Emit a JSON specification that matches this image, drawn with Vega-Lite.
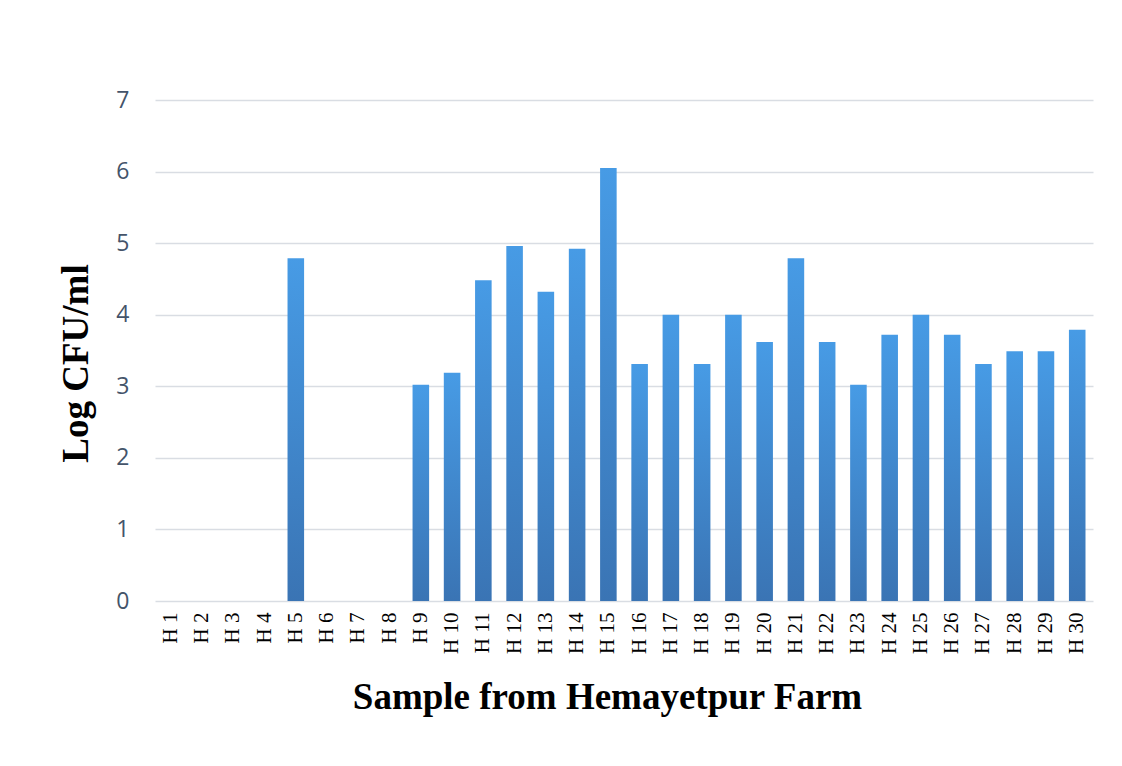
{
  "$schema": "https://vega.github.io/schema/vega-lite/v6.json",
  "width": 938,
  "height": 501,
  "autosize": "none",
  "padding": {"left": 155, "top": 100, "right": 29, "bottom": 165},
  "background": "white",
  "data": {
    "values": [
      {"sample": "H 1", "logcfu": 0},
      {"sample": "H 2", "logcfu": 0},
      {"sample": "H 3", "logcfu": 0},
      {"sample": "H 4", "logcfu": 0},
      {"sample": "H 5", "logcfu": 4.79},
      {"sample": "H 6", "logcfu": 0},
      {"sample": "H 7", "logcfu": 0},
      {"sample": "H 8", "logcfu": 0},
      {"sample": "H 9", "logcfu": 3.02},
      {"sample": "H 10", "logcfu": 3.19},
      {"sample": "H 11", "logcfu": 4.48},
      {"sample": "H 12", "logcfu": 4.96},
      {"sample": "H 13", "logcfu": 4.32},
      {"sample": "H 14", "logcfu": 4.92},
      {"sample": "H 15", "logcfu": 6.05},
      {"sample": "H 16", "logcfu": 3.31},
      {"sample": "H 17", "logcfu": 4.0},
      {"sample": "H 18", "logcfu": 3.31},
      {"sample": "H 19", "logcfu": 4.0},
      {"sample": "H 20", "logcfu": 3.62},
      {"sample": "H 21", "logcfu": 4.79},
      {"sample": "H 22", "logcfu": 3.62},
      {"sample": "H 23", "logcfu": 3.02},
      {"sample": "H 24", "logcfu": 3.72},
      {"sample": "H 25", "logcfu": 4.0},
      {"sample": "H 26", "logcfu": 3.72},
      {"sample": "H 27", "logcfu": 3.31},
      {"sample": "H 28", "logcfu": 3.49},
      {"sample": "H 29", "logcfu": 3.49},
      {"sample": "H 30", "logcfu": 3.79}
    ]
  },
  "mark": {
    "type": "bar",
    "color": {
      "gradient": "linear",
      "x1": 0, "y1": 0, "x2": 0, "y2": 1,
      "stops": [
        {"offset": 0, "color": "#479be5"},
        {"offset": 1, "color": "#3a74b4"}
      ]
    }
  },
  "encoding": {
    "x": {
      "field": "sample",
      "type": "ordinal",
      "sort": null,
      "scale": {"paddingInner": 0.47, "paddingOuter": 0.24},
      "axis": {
        "title": "Sample from Hemayetpur Farm",
        "titleFont": "Liberation Serif",
        "titleFontSize": 37,
        "titleFontWeight": "bold",
        "titleColor": "#000000",
        "titlePadding": 26,
        "titleX": 452,
        "labelFont": "Liberation Serif",
        "labelFontSize": 21,
        "labelColor": "#000000",
        "labelAngle": -90,
        "labelPadding": 11,
        "labelOverlap": false,
        "ticks": false,
        "domain": false
      }
    },
    "y": {
      "field": "logcfu",
      "type": "quantitative",
      "scale": {"domain": [0, 7], "nice": false},
      "axis": {
        "title": "Log CFU/ml",
        "titleFont": "Liberation Serif",
        "titleFontSize": 37,
        "titleFontWeight": "bold",
        "titleColor": "#000000",
        "titlePadding": 20,
        "titleY": 263,
        "labelFont": "Open Sans",
        "labelFontSize": 23,
        "labelColor": "#44546a",
        "labelPadding": 26,
        "labelOverlap": false,
        "values": [0, 1, 2, 3, 4, 5, 6, 7],
        "ticks": false,
        "domain": false,
        "grid": true,
        "gridColor": "#d9dde3",
        "gridWidth": 1.5
      }
    }
  },
  "config": {
    "view": {"stroke": null}
  }
}
